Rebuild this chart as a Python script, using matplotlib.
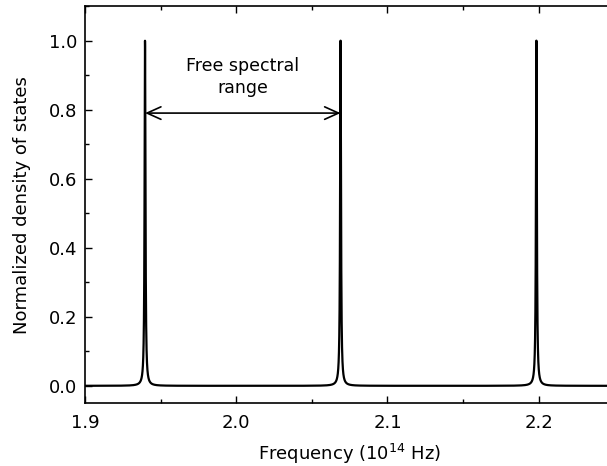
import matplotlib
matplotlib.use("Agg")
import matplotlib.pyplot as plt
import numpy as np
from matplotlib.ticker import MultipleLocator

# resonance centres (10^14 Hz) and half width of each mode
peak_centres = [1.9397, 2.0690, 2.1985]
peak_halfwidth = 0.00035
peak_height = 1.0

fsr_arrow_y = 0.79
fsr_label = "Free spectral\nrange"
x_ticks = [1.9, 2.0, 2.1, 2.2]
y_ticks = [0.0, 0.2, 0.4, 0.6, 0.8, 1.0]

plt.rcParams["font.family"] = ["DejaVu Sans"]
plt.rcParams["mathtext.default"] = "regular"

freq = np.linspace(1.9, 2.25, 20000)
dos = np.zeros_like(freq)
for c in peak_centres:
    dos += peak_height * peak_halfwidth**2 / ((freq - c) ** 2 + peak_halfwidth**2)

fig = plt.figure(figsize=(6.07, 4.66), dpi=100)
ax = fig.add_axes([0.140, 0.135, 0.872, 0.852])
ax.plot(freq, dos, color="black", linewidth=1.6)

ax.annotate("", xy=(peak_centres[0], fsr_arrow_y), xytext=(peak_centres[1], fsr_arrow_y),
            arrowprops=dict(arrowstyle="<->,head_length=1.0,head_width=0.45",
                            color="black", linewidth=1.2, shrinkA=0, shrinkB=0))
ax.text((peak_centres[0] + peak_centres[1]) / 2, 0.895, fsr_label, ha="center", va="center",
        fontsize=12.5, linespacing=1.3)

ax.set_xlim(1.9, 2.25)
ax.set_ylim(-0.05, 1.1)
ax.set_xticks(x_ticks)
ax.set_yticks(y_ticks)
ax.xaxis.set_minor_locator(MultipleLocator(0.05))
ax.yaxis.set_minor_locator(MultipleLocator(0.1))
ax.tick_params(which="both", direction="in", top=True, right=True, labelsize=13, width=1)
ax.tick_params(which="major", length=5)
ax.tick_params(which="minor", length=3)
ax.tick_params(axis="x", which="major", pad=8)
ax.tick_params(axis="y", which="major", pad=5.5)
for s in ax.spines.values():
    s.set_linewidth(1.2)

ax.set_xlabel("Frequency (10$^{14}$ Hz)", fontsize=13, labelpad=7)
ax.set_ylabel("Normalized density of states", fontsize=13, labelpad=13)

fig.savefig("out.png", dpi=100)
